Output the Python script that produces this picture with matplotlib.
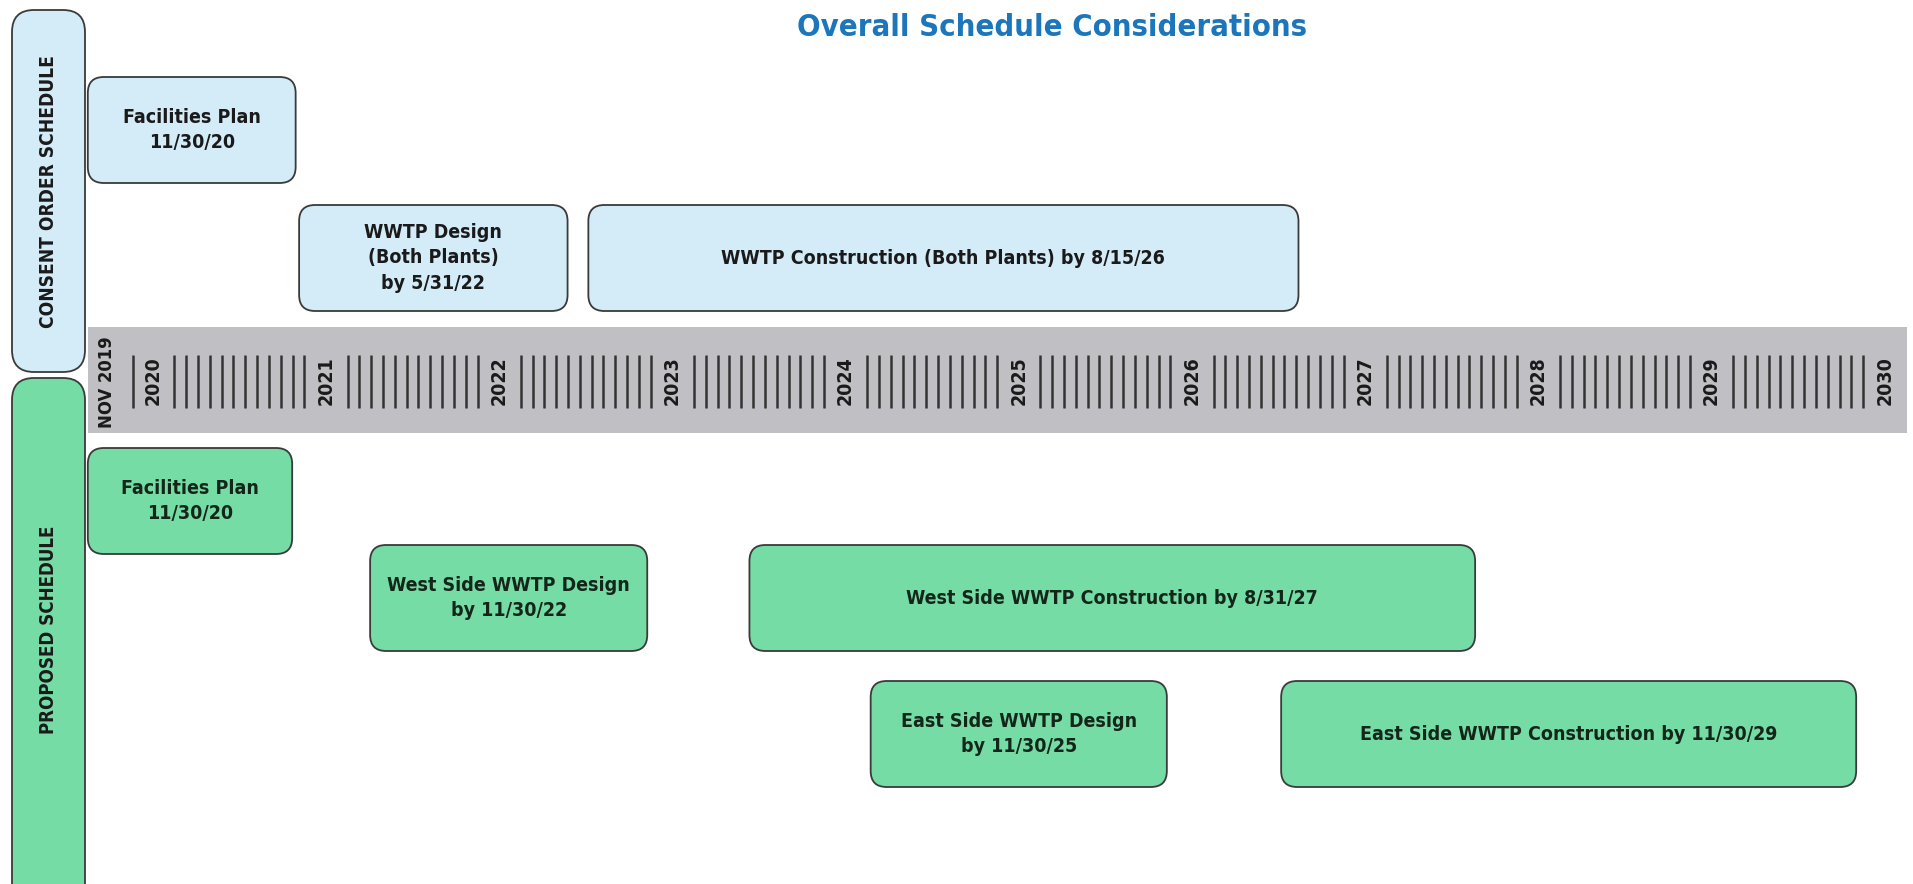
import matplotlib
matplotlib.use("Agg")
import matplotlib.pyplot as plt
from matplotlib.patches import FancyBboxPatch, Rectangle
from matplotlib import font_manager

# ---- data -------------------------------------------------------------
consent_labels = ["Facilities Plan\n11/30/20",
                  "WWTP Design\n(Both Plants)\nby 5/31/22",
                  "WWTP Construction (Both Plants) by 8/15/26"]
consent_start = [2019.69, 2020.91, 2022.58]
consent_end = [2020.89, 2022.46, 2026.68]
consent_lane = [0, 1, 1]

proposed_labels = ["Facilities Plan\n11/30/20",
                   "West Side WWTP Design\nby 11/30/22",
                   "West Side WWTP Construction by 8/31/27",
                   "East Side WWTP Design\nby 11/30/25",
                   "East Side WWTP Construction by 11/30/29"]
proposed_start = [2019.69, 2021.32, 2023.51, 2024.21, 2026.58]
proposed_end = [2020.87, 2022.92, 2027.70, 2025.92, 2029.90]
proposed_lane = [0, 1, 1, 2, 2]

years = list(range(2020, 2031))
first_label = "NOV 2019"
title = "Overall Schedule Considerations"

# ---- fonts -------------------------------------------------------------
installed = {f.name for f in font_manager.fontManager.ttflist}
cond = any(f.name == "DejaVu Sans" and f.stretch == "condensed"
           for f in font_manager.fontManager.ttflist)
if "Liberation Sans Narrow" in installed:
    FAMILY, STRETCH, K = ["Liberation Sans Narrow", "DejaVu Sans"], "normal", 1.0
elif cond:
    FAMILY, STRETCH, K = ["DejaVu Sans"], "condensed", 0.78
else:
    FAMILY, STRETCH, K = ["DejaVu Sans"], "normal", 0.7

BLUE_FILL = "#d4ecf8"
GREEN_FILL = "#76dca6"
EDGE = "#3a3a3a"
BAND = "#c0c0c4"
TITLE_BLUE = "#1b76bc"

W, H = 1913, 884
PX_PER_YEAR = 173.2
X0 = 2020 - 141.5 / PX_PER_YEAR
X1 = X0 + W / PX_PER_YEAR


def px(p):
    # horizontal pixel -> year coordinate
    return X0 + p / PX_PER_YEAR


fig = plt.figure(figsize=(W / 100, H / 100), dpi=100)
ax = fig.add_axes([0, 0, 1, 1])
ax.set_xlim(X0, X1)
ax.set_ylim(H, 0)
ax.axis("off")


def rbox(x, y, w, h, fc, r=16, lw=1.3):
    p = FancyBboxPatch((x, y), w, h,
                       boxstyle="round,pad=0,rounding_size=%f" % (r / PX_PER_YEAR),
                       mutation_aspect=PX_PER_YEAR,
                       fc=fc, ec=EDGE, lw=lw)
    ax.add_patch(p)
    return p


def txt(x, y, s, size, **kw):
    ax.text(x, y, s, fontsize=size * K, family=FAMILY, fontstretch=STRETCH,
            fontweight="bold", ha="center", va="center", **kw)


# title
txt(px(1052), 28, title, 28.5, color=TITLE_BLUE)

# side pills
rbox(px(12), 10, 73 / PX_PER_YEAR, 362, BLUE_FILL, r=22)
txt(px(49), 192, "CONSENT ORDER SCHEDULE", 17.5, rotation=90, color="#1a1a1a")
rbox(px(12), 378, 73 / PX_PER_YEAR, 540, GREEN_FILL, r=22)
txt(px(49), 630, "PROPOSED SCHEDULE", 17.2, rotation=90, color="#1a1a1a")

# timeline band
ax.add_patch(Rectangle((px(88), 327), px(1907) - px(88), 106, fc=BAND, ec="none"))
ticks = [2019.95]
for y in years[:-1]:
    ticks += [y + 0.19 + k * 0.0682 for k in range(12)]
ax.vlines(ticks, 355, 408, color="#333333", lw=1.8)
txt(2019.80, 382, first_label, 17, rotation=90, color="#1a1a1a")
for y in years:
    txt(y + 0.065, 381, str(y), 18, rotation=90, color="#1a1a1a")

# task boxes
consent_y = [130, 258]
proposed_y = [501, 598, 734]
BOX_H = 106

for lab, s, e, ln in zip(consent_labels, consent_start, consent_end, consent_lane):
    yc = consent_y[ln]
    rbox(s, yc - BOX_H / 2, e - s, BOX_H, BLUE_FILL)
    txt((s + e) / 2, yc, lab, 18, color="#1a1a1a", linespacing=1.45)

for lab, s, e, ln in zip(proposed_labels, proposed_start, proposed_end, proposed_lane):
    yc = proposed_y[ln]
    rbox(s, yc - BOX_H / 2, e - s, BOX_H, GREEN_FILL)
    txt((s + e) / 2, yc, lab, 18, color="#14261a", linespacing=1.45)

fig.savefig("out.png", dpi=100)
